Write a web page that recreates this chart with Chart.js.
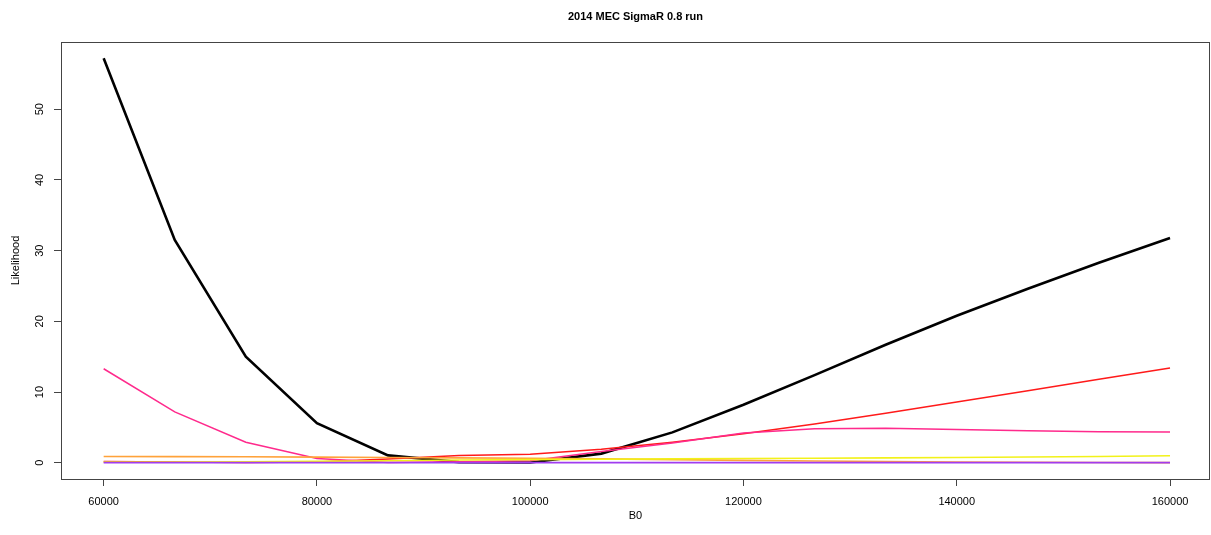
<!DOCTYPE html>
<html>
<head>
<meta charset="utf-8">
<script src="https://cdn.jsdelivr.net/npm/chart.js@4.4.1/dist/chart.umd.min.js"></script>
<style>
  html, body { margin: 0; padding: 0; background: #ffffff; }
  #wrap { width: 1211px; height: 535px; position: relative; }
</style>
</head>
<body>
<div id="wrap"><canvas id="c" width="1211" height="535"></canvas></div>
<script>
// ---- data ----
const titleText = "2014 MEC SigmaR 0.8 run";
const xLabel = "B0";
const yLabel = "Likelihood";
const b0 = [60000, 66667, 73333, 80000, 86667, 93333, 100000, 106667, 113333, 120000, 126667, 133333, 140000, 146667, 153333, 160000];
const blackSeries  = [57.2, 31.5, 15.0, 5.6, 1.05, 0.1, 0.05, 1.3, 4.3, 8.2, 12.4, 16.7, 20.8, 24.6, 28.3, 31.8];
const redSeries    = [0.2, 0.1, 0.05, 0.1, 0.55, 1.05, 1.2, 1.9, 2.9, 4.1, 5.5, 7.0, 8.6, 10.2, 11.8, 13.4];
const pinkSeries   = [13.3, 7.2, 2.9, 0.6, 0.05, 0.15, 0.3, 1.6, 2.8, 4.2, 4.8, 4.9, 4.7, 4.55, 4.4, 4.35];
const orangeSeries = [0.9, 0.88, 0.85, 0.8, 0.75, 0.7, 0.65, 0.55, 0.45, 0.35, 0.25, 0.18, 0.12, 0.08, 0.05, 0.03];
const yellowSeries = [0.1, 0.12, 0.15, 0.2, 0.3, 0.4, 0.45, 0.5, 0.55, 0.6, 0.65, 0.7, 0.75, 0.82, 0.9, 1.0];
const purpleSeries = [0.02, 0.02, 0.02, 0.02, 0.02, 0.02, 0.02, 0.02, 0.02, 0.02, 0.02, 0.02, 0.02, 0.02, 0.02, 0.02];
const xTicks = [60000, 80000, 100000, 120000, 140000, 160000];
const yTicks = [0, 10, 20, 30, 40, 50];

const FONT = "'Liberation Sans', Arial, Helvetica, sans-serif";

function pts(ys) { return b0.map((x, i) => ({ x: x, y: ys[i] })); }
function ds(ys, color, width, order) {
  return { data: pts(ys), borderColor: color, borderWidth: width, pointRadius: 0, tension: 0, fill: false, order: order };
}

const decor = {
  id: 'decor',
  afterDraw(chart) {
    const ctx = chart.ctx, a = chart.chartArea, ys = chart.scales.y;
    ctx.save();
    // box
    ctx.strokeStyle = '#444';
    ctx.lineWidth = 1;
    ctx.strokeRect(Math.round(a.left) + 0.5, Math.round(a.top) + 0.5, Math.round(a.right - a.left) - 1, Math.round(a.bottom - a.top));
    // title
    ctx.fillStyle = '#000';
    ctx.font = 'bold 11px ' + FONT;
    ctx.textAlign = 'center';
    ctx.textBaseline = 'middle';
    const cx = (a.left + a.right) / 2;
    ctx.fillText(titleText, cx, 17);
    // x label
    ctx.font = '11px ' + FONT;
    ctx.fillText(xLabel, cx, 516);
    // y tick labels (rotated, R style)
    yTicks.forEach(v => {
      const py = ys.getPixelForValue(v);
      ctx.save();
      ctx.translate(40, py);
      ctx.rotate(-Math.PI / 2);
      ctx.fillText(String(v), 0, 0);
      ctx.restore();
    });
    // y label
    ctx.save();
    ctx.translate(16, (a.top + a.bottom) / 2);
    ctx.rotate(-Math.PI / 2);
    ctx.fillText(yLabel, 0, 0);
    ctx.restore();
    ctx.restore();
  }
};

new Chart(document.getElementById('c'), {
  type: 'line',
  data: {
    datasets: [
      ds(blackSeries, '#000000', 2.6, 6),
      ds(redSeries, '#FF1A1A', 1.5, 5),
      ds(pinkSeries, '#FF2A8C', 1.5, 4),
      ds(orangeSeries, '#FFA23A', 1.6, 3),
      ds(yellowSeries, '#F2F21A', 1.6, 2),
      ds(purpleSeries, '#A03CF0', 1.6, 1)
    ]
  },
  options: {
    responsive: false,
    animation: false,
    events: [],
    layout: { padding: { top: 42, left: 0, right: 1, bottom: 0 } },
    plugins: { legend: { display: false }, title: { display: false }, tooltip: { enabled: false } },
    scales: {
      x: {
        type: 'linear',
        min: 56000,
        max: 163750,
        afterBuildTicks(scale) { scale.ticks = xTicks.map(v => ({ value: v })); },
        afterFit(scale) { scale.height = 56; },
        border: { display: false },
        grid: { display: true, drawOnChartArea: false, drawTicks: true, tickLength: 7, color: '#444', tickColor: '#444' },
        ticks: {
          autoSkip: false, maxRotation: 0, minRotation: 0, padding: 9,
          color: '#000', font: { family: FONT, size: 11 },
          callback: v => String(v)
        }
      },
      y: {
        type: 'linear',
        min: -2.29,
        max: 59.5,
        afterBuildTicks(scale) { scale.ticks = yTicks.map(v => ({ value: v })); },
        afterFit(scale) { scale.width = 61; },
        border: { display: false },
        grid: { display: true, drawOnChartArea: false, drawTicks: true, tickLength: 7, color: '#444', tickColor: '#444' },
        ticks: { display: false }
      }
    }
  },
  plugins: [decor]
});
</script>
</body>
</html>
